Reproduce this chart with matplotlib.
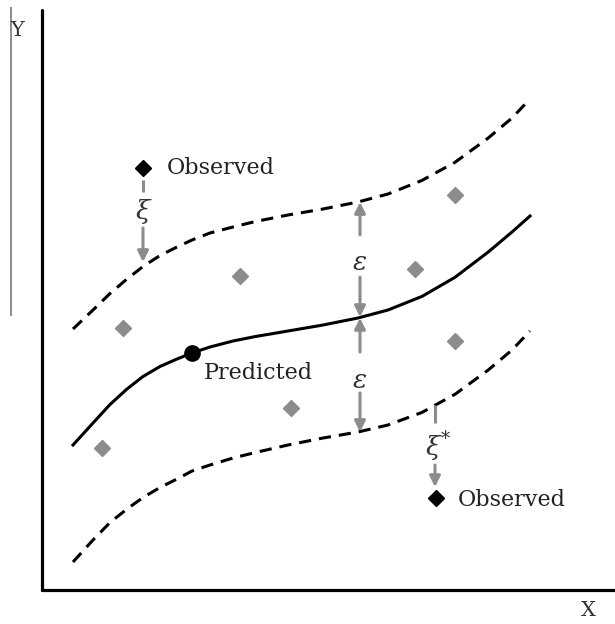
import matplotlib.pyplot as plt

# data (x right, y up, arbitrary units)
curve_x = [31, 51, 68, 85, 101, 118, 135, 150, 168, 191, 213, 246, 280, 316, 346, 380, 413, 446, 470, 488]
fit_y = [145, 167, 185.5, 201, 213.5, 223.5, 231, 237, 243, 249, 253.4, 259, 264.8, 272, 280, 293.6,
         312.7, 337.8, 358, 374]
upper_y = [261, 280, 296.5, 311, 323.5, 334.5, 343, 350, 357, 363, 368.4, 375, 380.8, 388, 396, 409.6,
           427.7, 451.8, 472, 491]
lower_y = [28, 50, 67.5, 81, 92.5, 102.5, 111, 119, 125, 132, 137.4, 145, 151.8, 158, 165, 177.6,
           195.7, 219.8, 240, 259]

inside_x = [81, 198, 249, 373, 413, 413, 60]
inside_y = [262, 314, 182, 321, 395, 249, 142]

outside_x = [101, 394]
outside_y = [422, 92]

pred_x, pred_y = 150, 237

GRAY = '#8c8c8c'
SERIF = ['DejaVu Serif']

fig = plt.figure(figsize=(6.15, 6.24), dpi=100)
ax = fig.add_axes([42 / 615, 34 / 624, 573 / 615, 580 / 624])
ax.set_xlim(0, 573)
ax.set_ylim(0, 580)
ax.set_xticks([])
ax.set_yticks([])
for side in ['top', 'right']:
    ax.spines[side].set_visible(False)
for side in ['left', 'bottom']:
    ax.spines[side].set_linewidth(2.3)
    ax.spines[side].set_capstyle('round')

# regression line and epsilon tube
ax.plot(curve_x, fit_y, color='black', lw=2.2, solid_joinstyle='round')
ax.plot(curve_x, upper_y, color='black', lw=2.2, linestyle=(0, (4, 2.6)))
ax.plot(curve_x, lower_y, color='black', lw=2.2, linestyle=(0, (4, 2.6)))

# points
ax.plot(inside_x, inside_y, 'D', color=GRAY, ms=8, mec=GRAY)
ax.plot(outside_x, outside_y, 'D', color='black', ms=8.5)
ax.plot(pred_x, pred_y, 'o', color='black', ms=11)

ax.text(125, 422, 'Observed', va='center', ha='left', fontsize=16, family=SERIF, color='#222222')
ax.text(416, 90, 'Observed', va='center', ha='left', fontsize=16, family=SERIF, color='#222222')
ax.text(162, 217, 'Predicted', va='center', ha='left', fontsize=16, family=SERIF, color='#222222')


def arrow(x, y0, y1):
    ax.annotate('', xy=(x, y1), xytext=(x, y0),
                arrowprops=dict(arrowstyle='-|>', color=GRAY, lw=2.2,
                                mutation_scale=16, shrinkA=0, shrinkB=0))


def stub(x, y0, y1):
    ax.plot([x, x], [y0, y1], color=GRAY, lw=2.2, solid_capstyle='butt')


# xi (above tube)
stub(101, 410, 398)
ax.text(101, 378, 'ξ', ha='center', va='center', fontsize=19, family=SERIF, style='italic', color='#333333')
arrow(101, 362, 328)

# epsilon arrows
arrow(318, 355, 388)
ax.text(318, 328, 'ε', ha='center', va='center', fontsize=19, family=SERIF, style='italic', color='#333333')
arrow(318, 313, 273)
arrow(318, 238, 272)
ax.text(318, 210, 'ε', ha='center', va='center', fontsize=19, family=SERIF, style='italic', color='#333333')
arrow(318, 197, 158)

# xi* (below tube)
stub(393, 185, 167)
ax.text(391, 142, 'ξ', ha='center', va='center', fontsize=19, family=SERIF, style='italic', color='#333333')
ax.text(403, 151, '*', ha='center', va='center', fontsize=13, family=SERIF, color='#333333')
arrow(393, 125, 103)

# axis names
ax.text(-25, 560, 'Y', ha='center', va='center', fontsize=15, family=SERIF, color='#333333', clip_on=False)
ax.text(546, -20, 'X', ha='center', va='center', fontsize=15, family=SERIF, color='#333333', clip_on=False)
ax.plot([-31, -31], [582, 275], color=GRAY, lw=1.4, clip_on=False)

fig.savefig('out.png', dpi=100)
